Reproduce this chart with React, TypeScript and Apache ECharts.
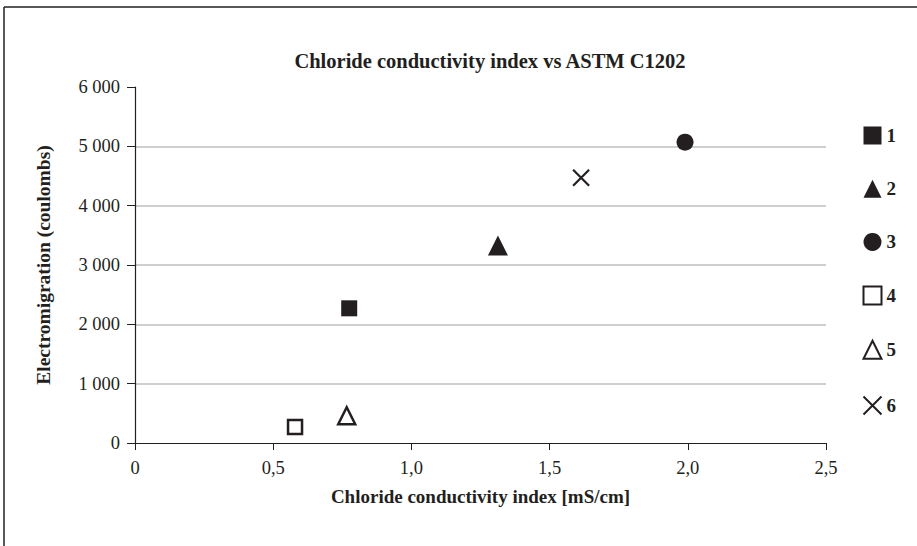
import React, { useEffect, useRef } from "react";
import * as echarts from "echarts";

const seriesNames = ["1", "2", "3", "4", "5", "6"];
const xValues = [0.775, 1.313, 1.99, 0.579, 0.766, 1.614];
const yValues = [2270, 3330, 5070, 270, 460, 4470];
const symbols = [
  "rect",
  "triangle",
  "circle",
  "rect",
  "triangle",
  "path://M0,0L10,10M10,0L0,10",
];
const symbolSizes = [16, 20, 17, 14, 17, 16];
const filled = [true, true, true, false, false, false];

const FONT = "'Liberation Serif', 'DejaVu Serif', serif";
const INK = "#231f20";

export default function App() {
  const ref = useRef<HTMLDivElement>(null);
  useEffect(() => {
    if (!ref.current) return;
    const chart = echarts.init(ref.current, undefined, { renderer: "svg" });
    const series = seriesNames.map((name, i) => {
      const isCross = i === 5;
      return {
        name,
        type: "scatter",
        symbol: symbols[i],
        symbolSize: symbolSizes[i],
        data: [[xValues[i], yValues[i]]],
        itemStyle: filled[i]
          ? { color: INK, borderWidth: 0, opacity: 1 }
          : isCross
          ? { color: "none", borderColor: INK, borderWidth: 2.2, opacity: 1 }
          : { color: "#ffffff", borderColor: INK, borderWidth: 2.5, opacity: 1 },
        emphasis: { disabled: true },
      };
    });
    chart.setOption({
      animation: false,
      backgroundColor: "#ffffff",
      textStyle: { fontFamily: FONT },
      title: {
        text: "Chloride conductivity index vs ASTM C1202",
        left: 485,
        textAlign: "center",
        top: 45,
        textStyle: {
          fontFamily: FONT,
          fontSize: 20.5,
          fontWeight: "bold",
          color: INK,
        },
      },
      grid: { left: 135, right: 91, top: 87, bottom: 103 },
      legend: {
        orient: "vertical",
        left: 856,
        top: 121,
        itemWidth: 18,
        itemHeight: 18,
        itemGap: 34.2,
        itemTextGap: 6,
        data: seriesNames,
        textStyle: {
          fontFamily: FONT,
          fontSize: 19,
          lineHeight: 18,
          fontWeight: "bold",
          color: INK,
        },
        selectedMode: false,
      },
      xAxis: {
        type: "value",
        min: 0,
        max: 2.5,
        interval: 0.5,
        name: "Chloride conductivity index [mS/cm]",
        nameLocation: "middle",
        nameGap: 44,
        nameTextStyle: {
          fontFamily: FONT,
          fontSize: 19,
          fontWeight: "bold",
          color: INK,
        },
        axisLine: { show: true, lineStyle: { color: INK, width: 1.2 } },
        axisTick: { show: true, length: 7, lineStyle: { color: INK } },
        axisLabel: {
          margin: 15,
          fontFamily: FONT,
          fontSize: 18.5,
          color: INK,
          formatter: (v: number) => (v === 0 ? "0" : v.toFixed(1).replace(".", ",")),
        },
        splitLine: { show: false },
      },
      yAxis: {
        type: "value",
        min: 0,
        max: 6000,
        interval: 1000,
        name: "Electromigration (coulombs)",
        nameLocation: "middle",
        nameGap: 82,
        nameTextStyle: {
          fontFamily: FONT,
          fontSize: 19.5,
          fontWeight: "bold",
          color: INK,
        },
        axisLine: { show: true, lineStyle: { color: INK, width: 1.2 } },
        axisTick: { show: true, length: 8, lineStyle: { color: INK } },
        axisLabel: {
          margin: 15,
          fontFamily: FONT,
          fontSize: 18.5,
          color: INK,
          formatter: (v: number) =>
            String(v).replace(/\B(?=(\d{3})+(?!\d))/g, " "),
        },
        splitLine: {
          show: true,
          showMinLine: false,
          showMaxLine: false,
          lineStyle: { color: "#bfbfbf", width: 1.5 },
        },
      },
      graphic: [
        {
          type: "line",
          shape: { x1: 4, y1: 7, x2: 917, y2: 7 },
          style: { stroke: INK, lineWidth: 1.5 },
        },
        {
          type: "line",
          shape: { x1: 4, y1: 7, x2: 4, y2: 546 },
          style: { stroke: INK, lineWidth: 1.5 },
        },
      ],
      series,
    });
    return () => chart.dispose();
  }, []);
  return (
    <div
      ref={ref}
      style={{ position: "fixed", left: 0, top: 0, width: 917, height: 546 }}
    />
  );
}
